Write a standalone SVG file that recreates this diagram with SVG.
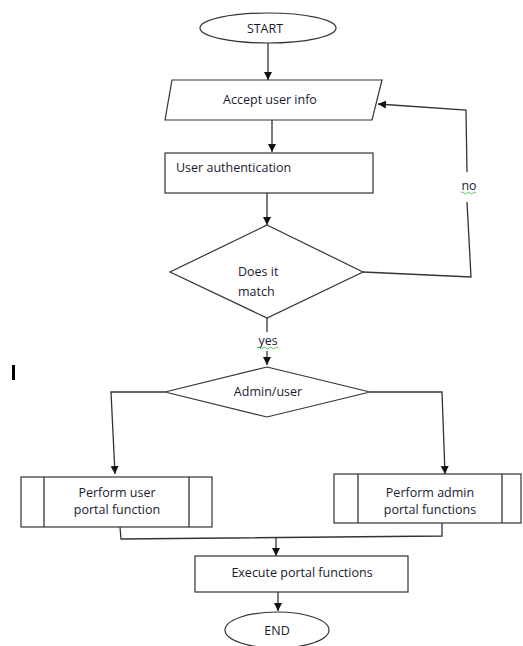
<svg xmlns="http://www.w3.org/2000/svg" width="523" height="646" viewBox="0 0 523 646">
<style>
.s{fill:#fff;stroke:#333;stroke-width:1.2}
.c{fill:none;stroke:#333;stroke-width:1.3}
.t{font-family:"Open Sans","Liberation Sans",Arial,sans-serif;font-size:12.5px;fill:#1a1a2e}
.m{text-anchor:middle}
.sq{fill:none;stroke:#3a3;stroke-width:0.8}
</style>
<defs>
<marker id="a" viewBox="0 0 10 10" refX="10" refY="5" markerWidth="8" markerHeight="8" markerUnits="userSpaceOnUse" orient="auto">
<path d="M0,0 L10,5 L0,10 z" fill="#111"/>
</marker>
</defs>
<rect width="523" height="646" fill="#fff"/>
<g id="connectors">
<path class="c" d="M268,43 V80" marker-end="url(#a)"/>
<path class="c" d="M272,120 V152" marker-end="url(#a)"/>
<path class="c" d="M267,193 V225" marker-end="url(#a)"/>
<path class="c" d="M363,272 L471,277 L467,202"/>
<path class="c" d="M467,172 L466,110 L378,104" marker-end="url(#a)"/>
<path class="c" d="M267,318 V332"/>
<path class="c" d="M267,351 V365" marker-end="url(#a)"/>
<path class="c" d="M165,392 H111 L115,474" marker-end="url(#a)"/>
<path class="c" d="M370,392 H442 L445,474" marker-end="url(#a)"/>
<path class="c" d="M120,527 L121,539 L442,536 V523"/>
<path class="c" d="M276,537 V556" marker-end="url(#a)"/>
<path class="c" d="M278,592 V611" marker-end="url(#a)"/>
</g>
<g id="start">
<ellipse class="s" cx="268" cy="28" rx="68" ry="15"/>
<text class="t m" x="265" y="33">START</text>
</g>
<g id="accept">
<polygon class="s" points="172,80 382,80 372,120 165,120"/>
<text class="t m" x="270" y="104">Accept user info</text>
</g>
<g id="auth">
<rect class="s" x="165" y="153" width="208" height="40"/>
<text class="t" x="176" y="172">User authentication</text>
</g>
<g id="match">
<polygon class="s" points="267,225 363,272 267,318 170,272"/>
<text class="t" x="238" y="276">Does it</text>
<text class="t" x="238" y="296">match</text>
</g>
<g id="no-label">
<text class="t m" x="469" y="190">no</text>
<path class="sq" d="M461,193 q1.5,-2 3,0 t3,0 t3,0 t3,0 t3,0"/>
</g>
<g id="yes-label">
<text class="t m" x="268" y="345">yes</text>
<path class="sq" d="M257,348 q1.5,-2 3,0 t3,0 t3,0 t3,0 t3,0 t3,0 t3,0"/>
</g>
<rect x="12" y="365" width="3" height="15" fill="#000"/>
<g id="admin">
<polygon class="s" points="267,367 370,392 267,417 165,392"/>
<text class="t m" x="268" y="396">Admin/user</text>
</g>
<g id="userfn">
<rect class="s" x="21" y="477" width="191" height="50"/>
<path class="c" d="M44,477 V527 M189,477 V527"/>
<text class="t m" x="117" y="497">Perform user</text>
<text class="t m" x="117" y="514">portal function</text>
</g>
<g id="adminfn">
<rect class="s" x="334" y="474" width="187" height="49"/>
<path class="c" d="M358,474 V523 M502,474 V523"/>
<text class="t m" x="430" y="497">Perform admin</text>
<text class="t m" x="430" y="514">portal functions</text>
</g>
<g id="execute">
<rect class="s" x="195" y="556" width="213" height="36"/>
<text class="t m" x="302" y="577">Execute portal functions</text>
</g>
<g id="end">
<ellipse class="s" cx="277" cy="630" rx="52" ry="18"/>
<text class="t m" x="277" y="635">END</text>
</g>
</svg>
